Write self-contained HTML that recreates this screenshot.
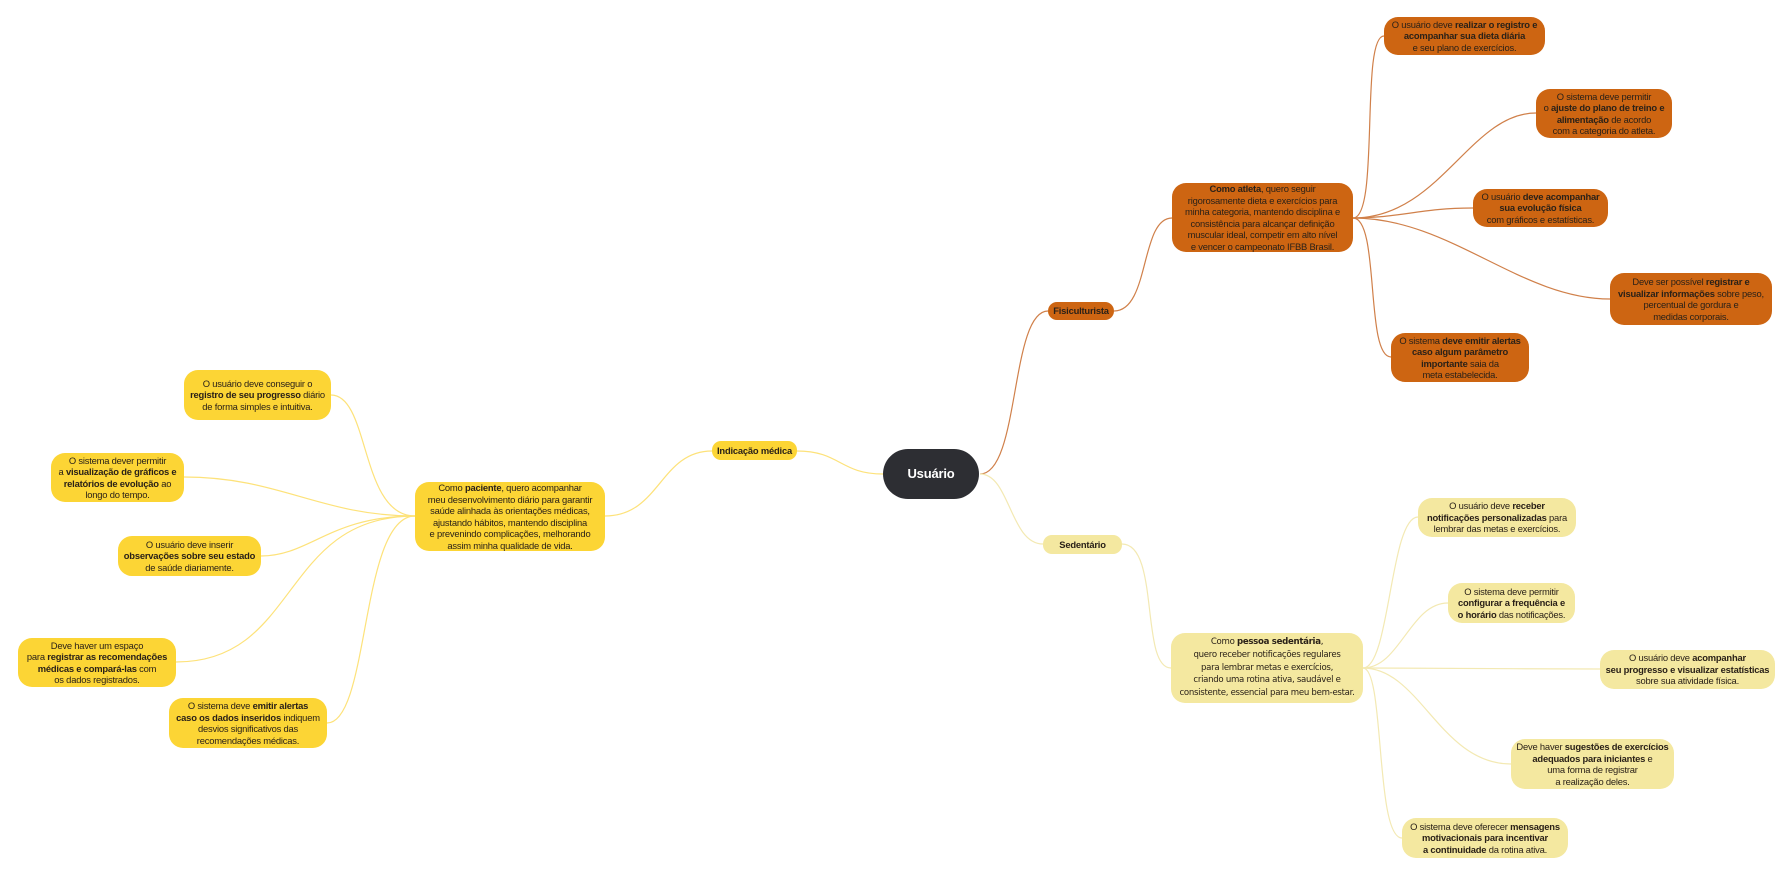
<!DOCTYPE html>
<html><head><meta charset="utf-8">
<style>
html,body{margin:0;padding:0;background:#fff;}
body{width:1783px;height:875px;position:relative;overflow:hidden;font-family:"Liberation Sans",sans-serif;}
.n{position:absolute;display:flex;align-items:center;justify-content:center;text-align:center;box-sizing:border-box;font-size:9.4px;line-height:11.5px;color:#2a2118;border-radius:14px;letter-spacing:-0.2px;white-space:nowrap;}
.o{background:#cd6512;}
.y{background:#fcd535;}
.p{background:#f4e8a0;}
b{font-weight:bold;}
svg{position:absolute;left:0;top:0;}
</style></head><body>
<svg width="1783" height="875" fill="none">
<g stroke="#d0804a" stroke-width="1.2">
<path d="M980 474 C1020 474,1010 311,1048 311"/>
<path d="M1114 311 C1150 311,1140 218,1172 218"/>
<path d="M1353 218 C1380 218,1360 36,1384 36"/>
<path d="M1353 218 C1440 218,1470 113,1536 113"/>
<path d="M1353 218 C1400 218,1420 208,1473 208"/>
<path d="M1353 218 C1450 218,1520 299,1610 299"/>
<path d="M1353 218 C1380 218,1365 357,1391 357"/>
</g>
<g stroke="#fde27a" stroke-width="1.2">
<path d="M883 474 C840 474,840 451,797 451"/>
<path d="M712 451 C660 451,660 516,605 516"/>
<path d="M415 516 C360 516,370 395,331 395"/>
<path d="M415 516 C320 516,280 477,184 477"/>
<path d="M415 516 C330 516,310 556,261 556"/>
<path d="M415 516 C280 516,300 662,176 662"/>
<path d="M415 516 C360 516,370 723,327 723"/>
</g>
<g stroke="#f3e9b3" stroke-width="1.2">
<path d="M980 474 C1010 474,1010 544,1043 544"/>
<path d="M1122 544 C1160 544,1140 668,1171 668"/>
<path d="M1363 668 C1390 668,1390 517,1418 517"/>
<path d="M1363 668 C1400 668,1410 603,1448 603"/>
<path d="M1363 668 C1450 668,1520 669,1600 669"/>
<path d="M1363 668 C1420 668,1440 764,1511 764"/>
<path d="M1363 668 C1385 668,1375 838,1402 838"/>
</g>
</svg>

<div class="n" style="left:883px;top:449px;width:96px;height:50px;background:#2d2e33;color:#fff;border-radius:25px;font-size:13px;font-weight:bold;">Usuário</div>

<div class="n o" style="left:1048px;top:302px;width:66px;height:18px;border-radius:9px;font-weight:bold;">Fisiculturista</div>
<div class="n y" style="left:712px;top:441px;width:85px;height:19px;border-radius:9px;font-weight:bold;">Indicação médica</div>
<div class="n p" style="left:1043px;top:535px;width:79px;height:19px;border-radius:9px;font-weight:bold;">Sedentário</div>

<div class="n o" style="left:1172px;top:183px;width:181px;height:69px;"><div><b>Como atleta</b>, quero seguir<br>rigorosamente dieta e exercícios para<br>minha categoria, mantendo disciplina e<br>consistência para alcançar definição<br>muscular ideal, competir em alto nível<br>e vencer o campeonato IFBB Brasil.</div></div>
<div class="n o" style="left:1384px;top:17px;width:161px;height:38px;"><div>O usuário deve <b>realizar o registro e<br>acompanhar sua dieta diária</b><br>e seu plano de exercícios.</div></div>
<div class="n o" style="left:1536px;top:89px;width:136px;height:49px;"><div>O sistema deve permitir<br>o <b>ajuste do plano de treino e<br>alimentação</b> de acordo<br>com a categoria do atleta.</div></div>
<div class="n o" style="left:1473px;top:189px;width:135px;height:38px;"><div>O usuário <b>deve acompanhar<br>sua evolução física</b><br>com gráficos e estatísticas.</div></div>
<div class="n o" style="left:1610px;top:273px;width:162px;height:52px;"><div>Deve ser possível <b>registrar e<br>visualizar informações</b> sobre peso,<br>percentual de gordura e<br>medidas corporais.</div></div>
<div class="n o" style="left:1391px;top:333px;width:138px;height:49px;"><div>O sistema <b>deve emitir alertas<br>caso algum parâmetro<br>importante</b> saia da<br>meta estabelecida.</div></div>

<div class="n y" style="left:415px;top:482px;width:190px;height:69px;"><div>Como <b>paciente</b>, quero acompanhar<br>meu desenvolvimento diário para garantir<br>saúde alinhada às orientações médicas,<br>ajustando hábitos, mantendo disciplina<br>e prevenindo complicações, melhorando<br>assim minha qualidade de vida.</div></div>
<div class="n y" style="left:184px;top:370px;width:147px;height:50px;"><div>O usuário deve conseguir o<br><b>registro de seu progresso</b> diário<br>de forma simples e intuitiva.</div></div>
<div class="n y" style="left:51px;top:453px;width:133px;height:49px;"><div>O sistema dever permitir<br>a <b>visualização de gráficos e<br>relatórios de evolução</b> ao<br>longo do tempo.</div></div>
<div class="n y" style="left:118px;top:536px;width:143px;height:40px;"><div>O usuário deve inserir<br><b>observações sobre seu estado</b><br>de saúde diariamente.</div></div>
<div class="n y" style="left:18px;top:638px;width:158px;height:49px;"><div>Deve haver um espaço<br>para <b>registrar as recomendações<br>médicas e compará-las</b> com<br>os dados registrados.</div></div>
<div class="n y" style="left:169px;top:698px;width:158px;height:50px;"><div>O sistema deve <b>emitir alertas<br>caso os dados inseridos</b> indiquem<br>desvios significativos das<br>recomendações médicas.</div></div>

<div class="n p" style="left:1171px;top:633px;width:192px;height:70px;font-family:'DejaVu Sans',sans-serif;font-size:8.6px;line-height:12.8px;letter-spacing:-0.3px;"><div>Como <b>pessoa sedentária</b>,<br>quero receber notificações regulares<br>para lembrar metas e exercícios,<br>criando uma rotina ativa, saudável e<br>consistente, essencial para meu bem-estar.</div></div>
<div class="n p" style="left:1418px;top:498px;width:158px;height:39px;"><div>O usuário deve <b>receber<br>notificações personalizadas</b> para<br>lembrar das metas e exercícios.</div></div>
<div class="n p" style="left:1448px;top:583px;width:127px;height:40px;"><div>O sistema deve permitir<br><b>configurar a frequência e<br>o horário</b> das notificações.</div></div>
<div class="n p" style="left:1600px;top:650px;width:175px;height:39px;"><div>O usuário deve <b>acompanhar<br>seu progresso e visualizar estatísticas</b><br>sobre sua atividade física.</div></div>
<div class="n p" style="left:1511px;top:739px;width:163px;height:50px;"><div>Deve haver <b>sugestões de exercícios<br>adequados para iniciantes</b> e<br>uma forma de registrar<br>a realização deles.</div></div>
<div class="n p" style="left:1402px;top:818px;width:166px;height:40px;"><div>O sistema deve oferecer <b>mensagens<br>motivacionais para incentivar<br>a continuidade</b> da rotina ativa.</div></div>
</body></html>
